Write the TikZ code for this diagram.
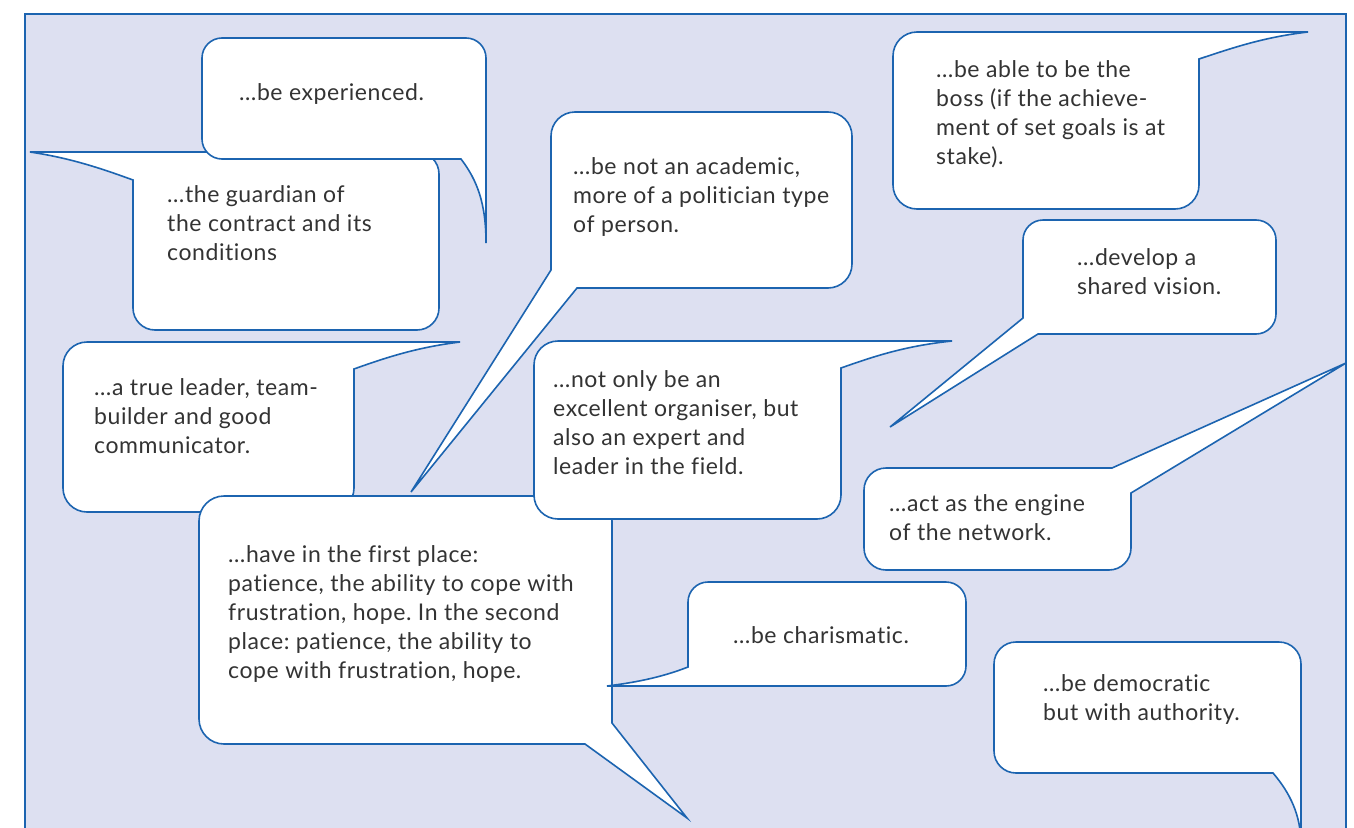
\documentclass[tikz,border=0pt]{standalone}
\usepackage{fontspec}
\newfontfamily\bubfont[Ligatures={NoCommon,NoDiscretionary}, LetterSpace=2.5]{Lato}
\definecolor{bgc}{RGB}{221,224,241}
\definecolor{bblue}{RGB}{28,100,176}
\definecolor{txt}{RGB}{51,51,51}
\newcommand\kk{0.4477}
\def\cTL#1#2#3{-- (#1,#2+#3) .. controls (#1,#2+\kk*#3) and (#1+\kk*#3,#2) .. (#1+#3,#2)}
\def\cTR#1#2#3{-- (#1-#3,#2) .. controls (#1-\kk*#3,#2) and (#1,#2+\kk*#3) .. (#1,#2+#3)}
\def\cBR#1#2#3{-- (#1,#2-#3) .. controls (#1,#2-\kk*#3) and (#1-\kk*#3,#2) .. (#1-#3,#2)}
\def\cBL#1#2#3{-- (#1+#3,#2) .. controls (#1+\kk*#3,#2) and (#1,#2-\kk*#3) .. (#1,#2-#3)}
\tikzset{
  bub/.style={draw=bblue, fill=white, line width=1.6pt, line join=miter},
  btext/.style={anchor=north west, inner sep=0pt, align=left, text=txt,
    font=\bubfont\fontsize{23}{29}\selectfont\frenchspacing}
}
\begin{document}
\begin{tikzpicture}[x=1pt,y=-1pt]
\useasboundingbox (0,0) rectangle (1354,827);
\clip (0,0) rectangle (1354,827);
\fill[white] (0,0) rectangle (1354,827);
\draw[line width=2.4pt, draw=bblue, fill=bgc] (25,14) rectangle (1346,870);

% B2 guardian
\draw[bub] (30,152) \cTR{439}{152}{22} \cBR{439}{330}{22} \cBL{133}{330}{22}
  -- (133,180) .. controls (100,168) and (70,158) .. (30,152) -- cycle;
% B1 experienced
\draw[bub] (202,100) \cTL{202}{38}{20} \cTR{486}{38}{20}
  -- (486,243) .. controls (486,203) and (477,180) .. (461,159) \cBL{202}{159}{20} -- cycle;
% B3 academic
\draw[bub] (551,200) \cTL{551}{112}{24} \cTR{852}{112}{24} \cBR{852}{288}{24}
  -- (577,288) -- (411,492) -- (551,270) -- cycle;
% B4 true leader
\draw[bub] (63,420) \cTL{63}{342}{24} -- (460,342) .. controls (420,347) and (390,356) .. (354,369)
  \cBR{354}{512}{24} \cBL{63}{512}{24} -- cycle;
% B5 patience
\draw[bub] (199,600) \cTL{199}{496}{25} \cTR{612}{496}{25}
  -- (612,723) -- (687,818) -- (585,744) \cBL{199}{744}{25} -- cycle;
% B6 organiser
\draw[bub] (534,430) \cTL{534}{341}{24} -- (952,341) .. controls (905,346) and (875,356) .. (841,368)
  \cBR{841}{519}{24} \cBL{534}{519}{24} -- cycle;
% B7 boss
\draw[bub] (893,120) \cTL{893}{32}{24} -- (1308,32) .. controls (1265,37) and (1235,47) .. (1199,59)
  \cBR{1199}{209}{24} \cBL{893}{209}{24} -- cycle;
% B8 vision
\draw[bub] (1023,280) \cTL{1023}{220}{20} \cTR{1276}{220}{20} \cBR{1276}{334}{20}
  -- (1038,334) -- (890,427) -- (1023,318) -- cycle;
% B9 engine
\draw[bub] (864,520) \cTL{864}{468}{22} -- (1112,468) -- (1346,363) -- (1131,493)
  \cBR{1131}{570}{22} \cBL{864}{570}{22} -- cycle;
% B10 charismatic
\draw[bub] (688,630) \cTL{688}{582}{20} \cTR{966}{582}{20} \cBR{966}{686}{20}
  -- (607,686) .. controls (640,682) and (665,676) .. (688,667) -- cycle;
% B11 democratic
\draw[bub] (994,700) \cTL{994}{642}{22} \cTR{1301}{642}{22}
  -- (1301,845) .. controls (1301,815) and (1290,793) .. (1273,773) \cBL{994}{773}{22} -- cycle;

% texts (baseline of first line minus 20.3)
\node[btext] (t1) at (239,{100-20.3}) {\strut…be experienced.};
\node[btext] (t2) at (167,{202-20.3}) {\strut…the guardian of\\the contract and its\\conditions};
\node[btext] (t3) at (573,{174-20.3}) {\strut…be not an academic,\\more of a politician type\\of person.};
\node[btext] (t4) at (94,{395-20.3}) {\strut…a true leader, team-\\builder and good\\communicator.};
\node[btext] (t5) at (228,{562-20.3}) {\strut…have in the first place:\\patience, the ability to cope with\\frustration, hope. In the second\\place: patience, the ability to\\cope with frustration, hope.};
\node[btext] (t6) at (553,{387-20.3}) {\strut…not only be an\\excellent organiser, but\\also an expert and\\leader in the field.};
\node[btext] (t7) at (936,{77-20.3}) {\strut…be able to be the\\boss (if the achieve-\\ment of set goals is at\\stake).};
\node[btext] (t8) at (1077,{265-20.3}) {\strut…develop a\\shared vision.};
\node[btext] (t9) at (889,{511-20.3}) {\strut…act as the engine\\of the network.};
\node[btext] (t10) at (733,{643-20.3}) {\strut…be charismatic.};
\node[btext] (t11) at (1043,{691-20.3}) {\strut…be democratic\\but with authority.};
\end{tikzpicture}
\end{document}
